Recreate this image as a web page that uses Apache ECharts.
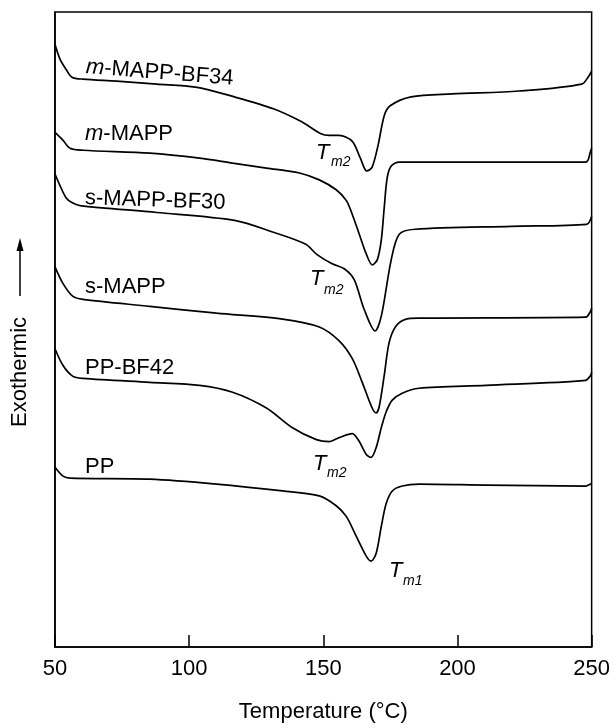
<!DOCTYPE html>
<html>
<head>
<meta charset="utf-8">
<script src="https://cdn.jsdelivr.net/npm/echarts@6/dist/echarts.min.js"></script>
<style>
html,body{margin:0;padding:0;background:#fff;}
#chart{width:613px;height:728px;}
</style>
</head>
<body>
<div id="chart"></div>
<script>
// Temperature (°C) vs. relative heat flow (arbitrary units, curves offset vertically)
const xTicks = [50, 100, 150, 200, 250];

const mMAPPBF34 = [[50,610],[51.9,595],[54.1,585],[56.3,577],[60.4,575],[73,573],[87.9,570],[102.4,567],[116.9,557],[131.4,545],[141.8,532],[148.9,520],[152.2,518],[155.9,518],[160.8,512],[163.8,495],[166.2,482],[168.2,486],[170.4,508],[172.7,538],[174.9,548],[182.7,557],[198,560],[222.9,563],[246.3,570],[248.9,578],[250,583]];

const mMAPP = [[50,521],[53,513],[55.6,505],[60.4,503],[85.3,500],[103.9,495],[116.2,490],[128.8,485],[141.1,480],[148.5,473],[154.8,463],[158.6,452],[160.8,438],[163.4,418],[166.0,398],[168.2,387],[170.1,392],[171.6,412],[172.7,445],[173.8,475],[175.3,487],[178.3,491],[198,491],[247.8,491],[249.6,502],[250,505]];

const sMAPPBF30 = [[50,479],[51.9,467],[54.1,455],[56.3,450],[59.3,447],[87.9,440],[116.9,432],[131.4,420],[143.3,408],[147.8,397],[153.3,388],[157.8,383],[161.5,372],[165.2,342],[169.3,320],[171.6,335],[175.3,392],[178.3,418],[184.2,423],[220,426],[248.1,428],[250,436]];

const sMAPP = [[50,385],[53,368],[56.7,355],[60.4,352],[85.3,345],[110.2,338],[134.8,332],[148.5,324],[155.9,310],[160.8,292],[164.5,268],[168.2,242],[169.7,237],[170.8,243],[172.7,275],[174.5,308],[177.1,325],[180.9,332],[185.7,333],[247.8,334],[249.6,340],[250,343]];

const ppBF42 = [[50,302],[53,285],[56.7,274],[60.4,272],[85.3,268],[103.9,265],[116.2,258],[128.8,242],[138.5,222],[147.4,210],[152.2,208],[155.9,212],[160.8,216],[163.4,208],[166.0,195],[167.8,192],[169.7,202],[171.6,222],[173.4,238],[175.7,250],[179.4,257],[185.7,262],[210.6,265],[247.8,270],[249.6,275],[250,278]];

const pp = [[50,182],[53,173],[55.6,171],[85.3,170],[110.2,165],[134.8,158],[148.5,153],[154.8,143],[158.6,132],[162.3,112],[166.0,92],[167.8,87],[169.7,95],[171.6,122],[173.4,145],[175.7,158],[179.4,163],[185.7,165],[210.6,164],[247.8,163],[249.6,165],[250,166]];

const seriesNames = ['m-MAPP-BF34','m-MAPP','s-MAPP-BF30','s-MAPP','PP-BF42','PP'];
const seriesData = [mMAPPBF34, mMAPP, sMAPPBF30, sMAPP, ppBF42, pp];

const FONT = '"Liberation Sans", Arial, Helvetica, sans-serif';
const chart = echarts.init(document.getElementById('chart'));

function txt(x, y, text, size, italic, rot) {
  return {
    type: 'text', x: x, y: y, rotation: (rot || 0) * Math.PI / 180,
    style: {
      text: text, fill: '#000',
      font: (italic ? 'italic ' : '') + size + 'px ' + FONT,
      textAlign: 'left', textVerticalAlign: 'middle',
      rich: { i: { fontStyle: 'italic', fontSize: size, fontFamily: FONT, fill: '#000' } }
    }
  };
}

const option = {
  backgroundColor: '#fff',
  animation: false,
  grid: { left: 55, right: 20, top: 12, bottom: 73, show: true, borderColor: '#000', borderWidth: 1.5, backgroundColor: 'transparent' },
  xAxis: {
    type: 'value', min: xTicks[0], max: xTicks[xTicks.length - 1], interval: 50,
    name: 'Temperature (°C)', nameLocation: 'middle', nameGap: 54,
    nameTextStyle: { fontFamily: FONT, fontSize: 22, color: '#000' },
    axisLine: { lineStyle: { color: '#000', width: 1.5 } },
    axisTick: { inside: true, length: 12, lineStyle: { color: '#000', width: 1.5 } },
    axisLabel: { fontFamily: FONT, fontSize: 22, color: '#000', margin: 11 },
    splitLine: { show: false }
  },
  yAxis: {
    type: 'value', min: 0, max: 643,
    axisLine: { show: true, lineStyle: { color: '#000', width: 1.5 } },
    axisTick: { show: false }, axisLabel: { show: false }, splitLine: { show: false }
  },
  series: seriesData.map((d, i) => ({
    name: seriesNames[i], type: 'line', data: d, smooth: 0.3, showSymbol: false,
    lineStyle: { color: '#000', width: 1.7 }
  })),
  graphic: [
    txt(86, 67, '{i|m}-MAPP-BF34', 22, false, -4.5),
    txt(85, 134, '{i|m}-MAPP', 22, false, 0),
    txt(85, 198, 's-MAPP-BF30', 22, false, -2),
    txt(85, 287, 's-MAPP', 22, false, 0),
    txt(85, 368, 'PP-BF42', 22, false, 0),
    txt(85, 467, 'PP', 22, false, 0),
    txt(316, 153, 'T', 22, true, 0), txt(331, 162, 'm2', 14, true, 0),
    txt(310, 279, 'T', 22, true, 0), txt(324, 290, 'm2', 14, true, 0),
    txt(313, 464, 'T', 22, true, 0), txt(327, 473, 'm2', 14, true, 0),
    txt(389, 571, 'T', 22, true, 0), txt(403, 581, 'm1', 14, true, 0),
    {
      type: 'text', x: 20, y: 372, rotation: Math.PI / 2,
      style: { text: 'Exothermic', fill: '#000', font: '22px ' + FONT, textAlign: 'center', textVerticalAlign: 'middle' }
    },
    { type: 'line', shape: { x1: 20, y1: 296, x2: 20, y2: 246 }, style: { stroke: '#000', lineWidth: 1.5 } },
    { type: 'polygon', shape: { points: [[20, 238], [16.5, 251], [23.5, 251]] }, style: { fill: '#000' } }
  ]
};
chart.setOption(option);
</script>
</body>
</html>
